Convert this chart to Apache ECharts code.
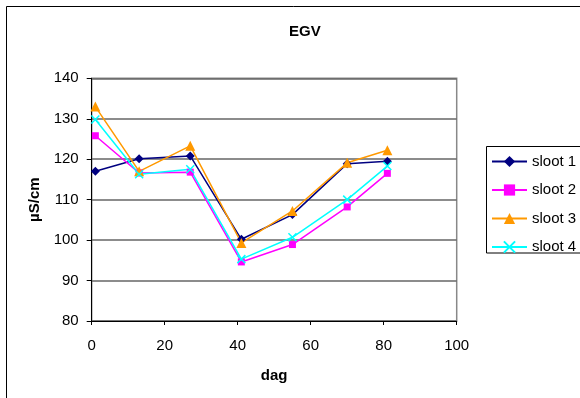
<!DOCTYPE html>
<html>
<head>
<meta charset="utf-8">
<script src="https://cdn.jsdelivr.net/npm/echarts@6/dist/echarts.min.js"></script>
<style>
  html, body { margin: 0; padding: 0; background: #fff; }
  #chart { width: 580px; height: 398px; }
</style>
</head>
<body>
<div id="chart"></div>
<script>
// Measurement days and conductivity per ditch (µS/cm)
const days = [1, 13, 27, 41, 55, 70, 81];
const sloot1 = [117.0, 120.1, 120.8, 100.2, 106.3, 118.9, 119.5];
const sloot2 = [125.8, 116.6, 116.8, 94.6, 98.9, 108.2, 116.5];
const sloot3 = [133.0, 117.0, 123.3, 99.3, 107.2, 119.1, 122.2];
const sloot4 = [129.8, 116.3, 117.5, 95.3, 100.7, 110.0, 118.3];
const seriesNames = ['sloot 1', 'sloot 2', 'sloot 3', 'sloot 4'];

const FONT = '"Liberation Sans", Arial, sans-serif';
const crossPath = 'path://M0,0 L10,10 M10,0 L0,10';

function pairs(vals) {
  return days.map((d, i) => [d, vals[i]]);
}

const styles = [
  { color: '#000080', symbol: 'diamond', size: 9 },
  { color: '#FF00FF', symbol: 'rect', size: 7 },
  { color: '#FF9900', symbol: 'triangle', size: 10 },
  { color: '#00FFFF', symbol: crossPath, size: 8 }
];
const values = [sloot1, sloot2, sloot3, sloot4];

const chart = echarts.init(document.getElementById('chart'), null, { renderer: 'canvas' });

chart.setOption({
  animation: false,
  backgroundColor: '#ffffff',
  textStyle: { fontFamily: FONT },
  title: {
    text: 'EGV',
    left: 284,
    top: 19,
    textStyle: { fontFamily: FONT, fontSize: 15, fontWeight: 'bold', color: '#000' }
  },
  grid: {
    left: 91.7,
    right: 123.3,
    top: 78.3,
    bottom: 77,
    show: true,
    backgroundColor: '#ffffff',
    borderColor: '#888888',
    borderWidth: 1.5,
    outerBoundsMode: 'none'
  },
  legend: {
    orient: 'vertical',
    left: 486,
    top: 146,
    itemWidth: 35,
    itemHeight: 14,
    itemGap: 13.5,
    padding: [8, 5, 4, 5],
    borderWidth: 0,
    textStyle: { fontFamily: FONT, fontSize: 15, color: '#000' },
    data: seriesNames
  },
  xAxis: {
    type: 'value',
    min: 0,
    max: 100,
    interval: 20,
    name: 'dag',
    nameLocation: 'middle',
    nameGap: 47,
    nameTextStyle: { fontFamily: FONT, fontSize: 15, fontWeight: 'bold', color: '#000' },
    axisLine: { show: true, lineStyle: { color: '#000', width: 1 } },
    axisTick: { show: true, length: 4, lineStyle: { color: '#000' } },
    axisLabel: { margin: 17, fontFamily: FONT, fontSize: 15, color: '#000' },
    splitLine: { show: false }
  },
  yAxis: {
    type: 'value',
    min: 80,
    max: 140,
    interval: 10,
    name: 'µS/cm',
    nameLocation: 'middle',
    nameGap: 47,
    nameRotate: 90,
    nameTextStyle: { fontFamily: FONT, fontSize: 15, fontWeight: 'bold', color: '#000' },
    axisLine: { show: true, lineStyle: { color: '#000', width: 1 } },
    axisTick: { show: true, length: 5, lineStyle: { color: '#000' } },
    axisLabel: { margin: 13, fontFamily: FONT, fontSize: 15, color: '#000' },
    splitLine: { show: true, lineStyle: { color: '#666666', width: 1.5 } }
  },
  graphic: [
    {
      // outer chart frame
      type: 'rect',
      silent: true,
      z: -10,
      shape: { x: 6.5, y: 6.5, width: 700, height: 500 },
      style: { fill: 'none', stroke: '#000', lineWidth: 1 }
    },
    {
      // legend frame, running past the right edge
      type: 'rect',
      silent: true,
      z: -5,
      shape: { x: 486.5, y: 146.5, width: 200, height: 106.5 },
      style: { fill: '#fff', stroke: '#000', lineWidth: 1 }
    }
  ],
  series: seriesNames.map((name, i) => ({
    name: name,
    type: 'line',
    data: pairs(values[i]),
    symbol: styles[i].symbol,
    symbolSize: styles[i].size,
    showAllSymbol: true,
    lineStyle: { color: styles[i].color, width: 1.5 },
    itemStyle: {
      color: styles[i].color,
      borderColor: styles[i].color,
      borderWidth: i === 3 ? 1.5 : 0
    },
    emphasis: { disabled: true }
  }))
});
</script>
</body>
</html>
